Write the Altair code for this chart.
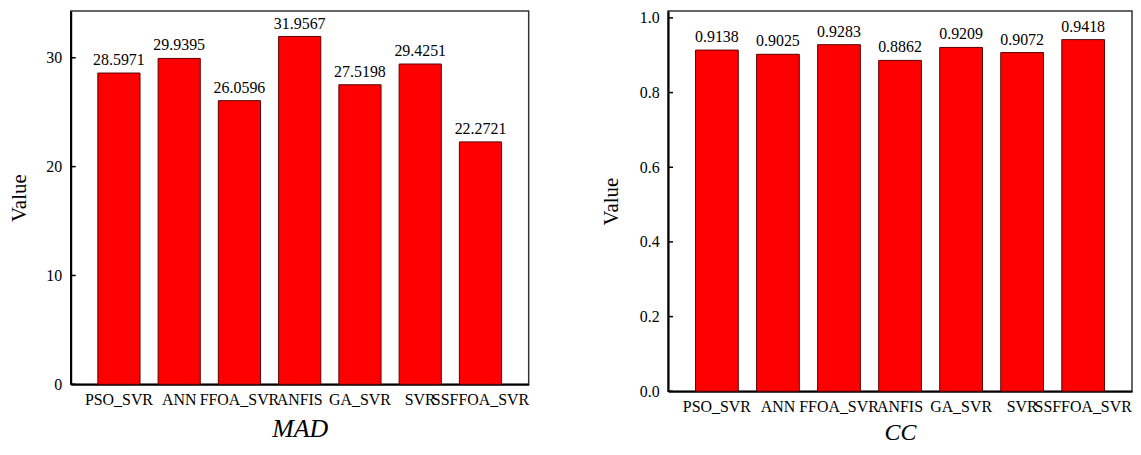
import altair as alt
import pandas as pd

models = ["PSO_SVR", "ANN", "FFOA_SVR", "ANFIS", "GA_SVR", "SVR", "SSFFOA_SVR"]
mad = [28.5971, 29.9395, 26.0596, 31.9567, 27.5198, 29.4251, 22.2721]
cc = [0.9138, 0.9025, 0.9283, 0.8862, 0.9209, 0.9072, 0.9418]
mad_ticks = [0, 10, 20, 30]
cc_ticks = [0.0, 0.2, 0.4, 0.6, 0.8, 1.0]

FONT = "Liberation Serif"


def panel(values, ticks, ymax, fmt, title, title_size, title_pad, width, height, ytitle_pad):
    df = pd.DataFrame({"model": models, "value": values})
    tdf = pd.DataFrame({"value": ticks})
    xaxis = alt.Axis(
        title=title,
        labelAngle=0,
        labelOverlap=False,
        ticks=False,
        labelPadding=7,
        titleFontStyle="italic",
        titleFontSize=title_size,
        titlePadding=title_pad,
    )
    yaxis = alt.Axis(
        title="Value",
        values=ticks,
        format=fmt,
        ticks=False,
        grid=False,
        labelPadding=9,
        titleFontSize=21,
        titlePadding=ytitle_pad,
    )
    xs = alt.Scale(paddingInner=0.3, paddingOuter=0.45)
    ys = alt.Scale(domain=[0, ymax], nice=False, zero=True)
    x = alt.X("model:N", sort=models, scale=xs, axis=xaxis)
    y = alt.Y("value:Q", scale=ys, axis=yaxis)
    bars = alt.Chart(df).mark_bar(color="#ff0000", stroke="#5a0000", strokeWidth=1).encode(x=x, y=y)
    text = alt.Chart(df).mark_text(
        baseline="alphabetic", dy=-8, font=FONT, fontSize=16, color="black"
    ).encode(
        x=x,
        y=y,
        text=alt.Text("value:Q", format=".4f"),
    )
    tk = alt.Chart(tdf).mark_rule(color="black", strokeWidth=1.5).encode(
        y=y,
        x=alt.value(0),
        x2=alt.value(5),
    )
    return alt.layer(bars, text, tk).properties(width=width, height=height)


left = panel(mad, mad_ticks, 34.3, "d", "MAD", 26, 8, 460, 375, 16)
right = panel(cc, cc_ticks, 1.0186, ".1f", "CC", 24, 6, 466, 382, 18)

chart = (
    alt.hconcat(left, right, spacing=70)
    .properties(padding=0, background="white")
    .configure_view(stroke="#333333", strokeWidth=1.5)
    .configure_axis(
        labelFont=FONT,
        labelFontSize=16,
        labelColor="black",
        titleFont=FONT,
        titleFontWeight="normal",
        titleColor="black",
        domainColor="black",
        domainWidth=2,
    )
)

chart.save("out.html", embed_options={"renderer": "svg", "actions": False})
